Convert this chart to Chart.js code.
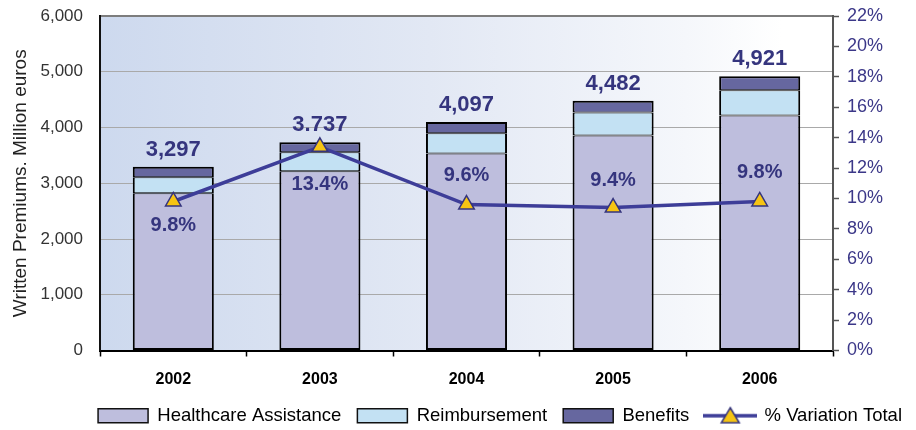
<!DOCTYPE html>
<html>
<head>
<meta charset="utf-8">
<title>Written Premiums</title>
<script src="https://cdn.jsdelivr.net/npm/chart.js@4.4.1/dist/chart.umd.min.js"></script>
<style>
  html, body { margin: 0; padding: 0; background: #fff; }
  #wrap { width: 916px; height: 430px; }
</style>
</head>
<body>
<div id="wrap"><canvas id="premiums-chart" width="916" height="430"></canvas></div>
<script>
// written premiums per year, million euros
const years = ['2002', '2003', '2004', '2005', '2006'];
const healthcare = [2820, 3215, 3533, 3857, 4216];
const reimbursement = [288, 342, 365, 413, 454];
const benefits = [189, 180, 199, 212, 251];
const totalLabels = ['3,297', '3.737', '4,097', '4,482', '4,921'];
// yearly % variation of the total
const variationPct = [9.8, 13.4, 9.6, 9.4, 9.8];

const navy = '#35357e';
const lineColor = '#3d3d98';
const markerFill = '#f6c413';
Chart.defaults.font.family = "'Liberation Sans', Arial, sans-serif";

// little legend icon: line with a triangle on it
const lineIcon = document.createElement('canvas');
lineIcon.width = 54;
lineIcon.height = 20;
(() => {
    const c = lineIcon.getContext('2d');
    c.strokeStyle = lineColor;
    c.lineWidth = 3.5;
    c.beginPath();
    c.moveTo(0, 10);
    c.lineTo(54, 10);
    c.stroke();
    c.beginPath();
    c.moveTo(27, 2);
    c.lineTo(36, 17);
    c.lineTo(18, 17);
    c.closePath();
    c.fillStyle = markerFill;
    c.fill();
    c.strokeStyle = navy;
    c.lineWidth = 1.5;
    c.stroke();
})();

// shaded plot background, blue on the left fading to white
const plotBackground = {
    id: 'plotBackground',
    beforeDraw(chart) {
        const {ctx, chartArea: a} = chart;
        const g = ctx.createLinearGradient(a.left, 0, a.right, 0);
        g.addColorStop(0, '#cdd9ee');
        g.addColorStop(0.45, '#e2e8f4');
        g.addColorStop(0.8, '#f5f7fb');
        g.addColorStop(0.93, '#ffffff');
        g.addColorStop(1, '#ffffff');
        ctx.save();
        ctx.fillStyle = g;
        ctx.fillRect(a.left, a.top, a.right - a.left, a.bottom - a.top);
        ctx.restore();
    }
};

// nudge the legend row a little to the right
const legendShift = {
    id: 'legendShift',
    afterLayout(chart) {
        chart.legend.left += 2;
        chart.legend.right += 2;
    }
};

// totals above the bars and % labels near the line markers
const pctLabelShift = [24, 38, -29, -27, -29];
const valueLabels = {
    id: 'valueLabels',
    afterDatasetsDraw(chart) {
        const ctx = chart.ctx;
        const topBars = chart.getDatasetMeta(2).data;
        const points = chart.getDatasetMeta(3).data;
        ctx.save();
        ctx.fillStyle = navy;
        ctx.textAlign = 'center';
        ctx.textBaseline = 'middle';
        ctx.font = "bold 22px 'Liberation Sans', Arial, sans-serif";
        topBars.forEach((bar, i) => {
            ctx.fillText(totalLabels[i], bar.x, bar.y - 17);
        });
        ctx.font = "bold 20px 'Liberation Sans', Arial, sans-serif";
        points.forEach((pt, i) => {
            ctx.fillText(variationPct[i].toFixed(1) + '%', pt.x, pt.y + pctLabelShift[i]);
        });
        ctx.restore();
    }
};

const barCommon = {
    type: 'bar',
    yAxisID: 'y',
    borderColor: '#000',
    borderSkipped: false,
    barPercentage: 0.553,
    categoryPercentage: 1,
    order: 1
};

new Chart(document.getElementById('premiums-chart'), {
    type: 'bar',
    data: {
        labels: years,
        datasets: [
            Object.assign({}, barCommon, {
                label: 'Healthcare Assistance',
                data: healthcare,
                backgroundColor: '#bebedd',
                borderWidth: {top: 1, bottom: 2, left: 2, right: 2}
            }),
            Object.assign({}, barCommon, {
                label: 'Reimbursement',
                data: reimbursement,
                backgroundColor: '#c3e1f3',
                borderWidth: {top: 1, bottom: 1, left: 2, right: 2}
            }),
            Object.assign({}, barCommon, {
                label: 'Benefits',
                data: benefits,
                backgroundColor: '#66679f',
                borderWidth: {top: 2, bottom: 1, left: 2, right: 2}
            }),
            {
                type: 'line',
                label: '% Variation Total',
                data: variationPct,
                yAxisID: 'y1',
                borderColor: lineColor,
                borderWidth: 3.5,
                tension: 0,
                pointStyle: 'triangle',
                pointRadius: 9,
                pointBackgroundColor: markerFill,
                pointBorderColor: navy,
                pointBorderWidth: 1.5,
                order: 0
            }
        ]
    },
    options: {
        responsive: false,
        animation: false,
        devicePixelRatio: 1,
        layout: { padding: { top: 16, bottom: -5, left: 0, right: 0 } },
        plugins: {
            tooltip: { enabled: false },
            legend: {
                position: 'bottom',
                align: 'end',
                labels: {
                    usePointStyle: true,
                    pointStyleWidth: 50,
                    boxHeight: 14,
                    padding: 16,
                    color: '#333',
                    font: { size: 18.5 },
                    generateLabels: (chart) => chart.data.datasets.map((ds, i) => ({
                        text: ds.label,
                        fillStyle: ds.type === 'line' ? lineColor : ds.backgroundColor,
                        strokeStyle: '#111',
                        lineWidth: 1.5,
                        pointStyle: ds.type === 'line' ? lineIcon : 'rect',
                        datasetIndex: i,
                        hidden: false
                    }))
                }
            }
        },
        scales: {
            x: {
                stacked: true,
                grid: { drawOnChartArea: false, tickLength: 6, tickColor: '#000', tickWidth: 1.5 },
                border: { color: '#000', width: 2 },
                ticks: { color: '#000', padding: 13, font: { size: 16, weight: 'bold' } },
                afterFit: (s) => { s.height = 40; }
            },
            y: {
                stacked: true,
                min: 0,
                max: 6000,
                grid: {
                    tickLength: 13,
                    tickColor: 'transparent',
                    color: (c) => c.tick.value === 6000 ? '#7d7d7d' : '#a9a9a9',
                    lineWidth: (c) => c.tick.value === 6000 ? 2 : 1
                },
                border: { color: '#111', width: 2 },
                ticks: {
                    stepSize: 1000,
                    padding: 4,
                    color: '#333',
                    font: { size: 17 },
                    callback: (v) => v.toLocaleString('en-US')
                },
                title: {
                    display: true,
                    text: 'Written Premiums. Million euros',
                    color: '#222',
                    font: { size: 19 },
                    padding: { top: 9, bottom: 4 }
                },
                afterFit: (s) => { s.width = 100; }
            },
            y1: {
                position: 'right',
                min: 0,
                max: 22,
                grid: {
                    drawOnChartArea: false,
                    tickLength: 10,
                    tickColor: '#555',
                    tickWidth: 1.5,
                    tickBorderDash: [5, 40]
                },
                border: { color: '#555', width: 2 },
                ticks: {
                    stepSize: 2,
                    padding: 4,
                    color: '#3b3788',
                    font: { size: 18 },
                    callback: (v) => v + '%'
                },
                afterFit: (s) => { s.width = 83; }
            }
        }
    },
    plugins: [plotBackground, legendShift, valueLabels]
});
</script>
</body>
</html>
